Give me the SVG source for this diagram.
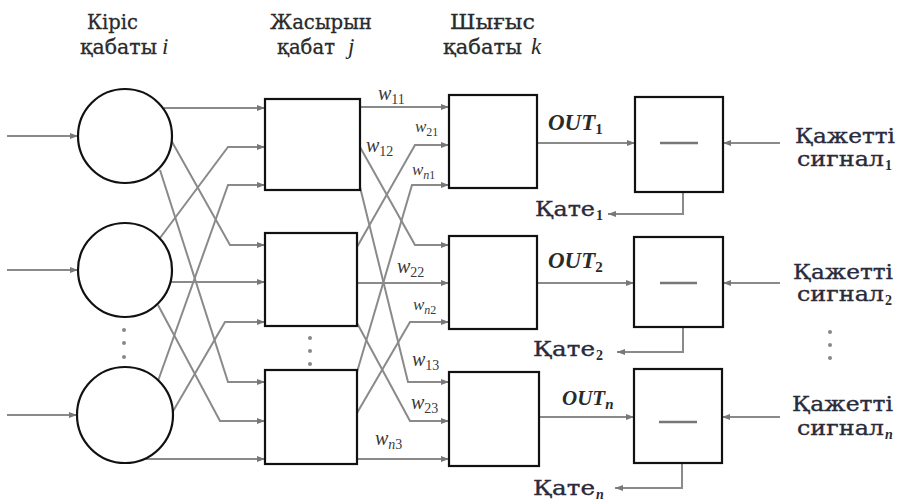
<svg xmlns="http://www.w3.org/2000/svg" width="900" height="503" viewBox="0 0 900 503">
  <style>
    .title { font-family: "DejaVu Serif", "Liberation Serif", serif; font-size: 21px; fill: #2a2a2a; stroke: #2a2a2a; stroke-width: 0.3; }
    .var { font-family: "Liberation Serif", serif; font-style: italic; font-size: 23px; fill: #2a2a2a; }
    .w { font-family: "Liberation Serif", serif; font-style: italic; font-size: 20px; fill: #3a3a3a; }
    .ws { font-style: normal; font-size: 14px; }
    .wsn { font-style: italic; font-size: 14px; }
    .out { font-family: "Liberation Serif", serif; font-style: italic; font-weight: bold; font-size: 23px; fill: #2a2a2a; }
    .outs { font-style: normal; font-size: 15px; }
    .outsn { font-style: italic; font-size: 15px; }
    .lbl { font-family: "DejaVu Serif", "Liberation Serif", serif; font-size: 20px; fill: #2a2a3a; stroke: #2a2a3a; stroke-width: 0.35; }
    .sub { font-family: "Liberation Serif", serif; font-weight: bold; font-size: 14px; fill: #2a2a3a; }
    .subn { font-family: "Liberation Serif", serif; font-weight: bold; font-style: italic; font-size: 14px; fill: #2a2a3a; }
    .node { fill: #fff; stroke: #111; stroke-width: 2.2; }
    .wire { fill: none; stroke: #8a8a8a; stroke-width: 2; marker-end: url(#ah); }
    .minus { stroke: #777; stroke-width: 2.5; }
    .dot { fill: #888; }
  </style>
  <defs>
    <marker id="ah" viewBox="0 0 8 6" refX="8" refY="3" markerWidth="8" markerHeight="6" markerUnits="userSpaceOnUse" orient="auto">
      <path d="M0,0 L8,3 L0,6 z" fill="#777"/>
    </marker>
  </defs>

  <!-- layer titles -->
  <g id="titles">
    <text class="title" x="87" y="29" textLength="51" lengthAdjust="spacingAndGlyphs">Кіріс</text>
    <text class="title" x="80" y="54" textLength="77" lengthAdjust="spacingAndGlyphs">қабаты</text>
    <text class="var" x="162" y="54">i</text>
    <text class="title" x="270" y="29" textLength="102" lengthAdjust="spacingAndGlyphs">Жасырын</text>
    <text class="title" x="277" y="54" textLength="58" lengthAdjust="spacingAndGlyphs">қабат</text>
    <text class="var" x="348" y="54">j</text>
    <text class="title" x="450" y="29" textLength="85" lengthAdjust="spacingAndGlyphs">Шығыс</text>
    <text class="title" x="443" y="54" textLength="79" lengthAdjust="spacingAndGlyphs">қабаты</text>
    <text class="var" x="531" y="54">k</text>
  </g>

  <!-- connectors -->
  <g id="connectors">
    <!-- inputs -->
    <path class="wire" d="M7,136 H78"/>
    <path class="wire" d="M7,270 H78"/>
    <path class="wire" d="M7,415 H77"/>
    <!-- input layer to hidden layer -->
    <path class="wire" d="M164,108 H265"/>
    <path class="wire" d="M171,140 L230,245 H265"/>
    <path class="wire" d="M160,170 L228,382 H265"/>
    <path class="wire" d="M160,238 L228,147 H265"/>
    <path class="wire" d="M171,282 H265"/>
    <path class="wire" d="M158,305 L220,421 H265"/>
    <path class="wire" d="M158,381 L228,185 H265"/>
    <path class="wire" d="M172,413 L225,322 H265"/>
    <path class="wire" d="M145,459 H265"/>
    <!-- hidden layer to output layer -->
    <path class="wire" d="M360,107 H449"/>
    <path class="wire" d="M360,147 L415,245 H449"/>
    <path class="wire" d="M360,187 L408,382 H449"/>
    <path class="wire" d="M357,247 L415,145 H449"/>
    <path class="wire" d="M357,283 H449"/>
    <path class="wire" d="M357,323 L410,421 H449"/>
    <path class="wire" d="M357,372 L412,185 H449"/>
    <path class="wire" d="M357,413 L410,322 H449"/>
    <path class="wire" d="M357,459 H449"/>
    <!-- outputs to comparators -->
    <path class="wire" d="M537,143 H635"/>
    <path class="wire" d="M537,283 H634"/>
    <path class="wire" d="M539,417 H634"/>
    <!-- desired signals -->
    <path class="wire" d="M780,143 H723"/>
    <path class="wire" d="M780,283 H723"/>
    <path class="wire" d="M780,417 H722"/>
    <!-- error feedback -->
    <path class="wire" d="M683,192 V214 H608"/>
    <path class="wire" d="M683,327 V352 H617"/>
    <path class="wire" d="M682,463 V488 H615"/>
  </g>

  <!-- input layer -->
  <g id="input-1"><circle class="node" cx="125" cy="136" r="47"/></g>
  <g id="input-2"><circle class="node" cx="125" cy="270" r="47"/></g>
  <g id="input-n"><circle class="node" cx="125" cy="415" r="48"/></g>
  <g id="input-dots">
    <circle class="dot" cx="124" cy="330" r="2"/>
    <circle class="dot" cx="124" cy="343" r="2"/>
    <circle class="dot" cx="124" cy="357" r="2"/>
  </g>

  <!-- hidden layer -->
  <g id="hidden-1"><rect class="node" x="265" y="99" width="95" height="91"/></g>
  <g id="hidden-2"><rect class="node" x="265" y="233" width="92" height="93"/></g>
  <g id="hidden-n"><rect class="node" x="265" y="370" width="92" height="94"/></g>
  <g id="hidden-dots">
    <circle class="dot" cx="310" cy="338" r="2"/>
    <circle class="dot" cx="310" cy="351" r="2"/>
    <circle class="dot" cx="310" cy="364" r="2"/>
  </g>

  <!-- output layer -->
  <g id="output-1"><rect class="node" x="449" y="95" width="88" height="93"/></g>
  <g id="output-2"><rect class="node" x="449" y="236" width="88" height="93"/></g>
  <g id="output-n"><rect class="node" x="449" y="372" width="90" height="94"/></g>

  <!-- comparators -->
  <g id="compare-1">
    <rect class="node" x="635" y="97" width="88" height="95"/>
    <line class="minus" x1="660" y1="143" x2="698" y2="143"/>
  </g>
  <g id="compare-2">
    <rect class="node" x="634" y="237" width="89" height="90"/>
    <line class="minus" x1="660" y1="283" x2="697" y2="283"/>
  </g>
  <g id="compare-n">
    <rect class="node" x="634" y="369" width="88" height="94"/>
    <line class="minus" x1="659" y1="422" x2="697" y2="422"/>
  </g>
  <g id="signal-dots">
    <circle class="dot" cx="830" cy="332" r="2"/>
    <circle class="dot" cx="830" cy="345" r="2"/>
    <circle class="dot" cx="830" cy="358" r="2"/>
  </g>

  <!-- weight labels -->
  <g id="weights">
    <text class="w" x="378" y="100">w<tspan class="ws" dy="4">11</tspan></text>
    <text class="w" x="366" y="152">w<tspan class="ws" dy="4">12</tspan></text>
    <text class="w" x="415" y="132" style="font-size:17px">w<tspan class="ws" dy="4" style="font-size:12px">21</tspan></text>
    <text class="w" x="412" y="175" style="font-size:17px">w<tspan class="wsn" dy="4" style="font-size:12px">n</tspan><tspan class="ws" style="font-size:12px">1</tspan></text>
    <text class="w" x="397" y="273">w<tspan class="ws" dy="4">22</tspan></text>
    <text class="w" x="413" y="310" style="font-size:17px">w<tspan class="wsn" dy="4" style="font-size:12px">n</tspan><tspan class="ws" style="font-size:12px">2</tspan></text>
    <text class="w" x="412" y="366">w<tspan class="ws" dy="4">13</tspan></text>
    <text class="w" x="411" y="409">w<tspan class="ws" dy="4">23</tspan></text>
    <text class="w" x="375" y="445">w<tspan class="wsn" dy="4">n</tspan><tspan class="ws">3</tspan></text>
  </g>

  <!-- output labels -->
  <g id="out-labels">
    <text class="out" x="548" y="130">OUT<tspan class="outs" dy="4">1</tspan></text>
    <text class="out" x="548" y="268">OUT<tspan class="outs" dy="4">2</tspan></text>
    <text class="out" x="562" y="405" style="font-size:21px">OUT<tspan class="outsn" dy="4">n</tspan></text>
  </g>

  <!-- desired signals -->
  <g id="desired-labels">
    <text class="lbl" x="795" y="143" textLength="100" lengthAdjust="spacingAndGlyphs">Қажетті</text>
    <text class="lbl" x="797" y="166" textLength="87" lengthAdjust="spacingAndGlyphs">сигнал</text>
    <text class="sub" x="885" y="170">1</text>
    <text class="lbl" x="793" y="279" textLength="100" lengthAdjust="spacingAndGlyphs">Қажетті</text>
    <text class="lbl" x="797" y="301" textLength="87" lengthAdjust="spacingAndGlyphs">сигнал</text>
    <text class="sub" x="885" y="305">2</text>
    <text class="lbl" x="792" y="411" textLength="101" lengthAdjust="spacingAndGlyphs">Қажетті</text>
    <text class="lbl" x="797" y="435" textLength="87" lengthAdjust="spacingAndGlyphs">сигнал</text>
    <text class="subn" x="885" y="439">n</text>
  </g>

  <!-- error labels -->
  <g id="error-labels">
    <text class="lbl" x="535" y="216" textLength="60" lengthAdjust="spacingAndGlyphs">Қате</text>
    <text class="sub" x="596" y="220">1</text>
    <text class="lbl" x="533" y="356" textLength="62" lengthAdjust="spacingAndGlyphs">Қате</text>
    <text class="sub" x="596" y="360">2</text>
    <text class="lbl" x="533" y="495" textLength="62" lengthAdjust="spacingAndGlyphs">Қате</text>
    <text class="subn" x="596" y="499">n</text>
  </g>
</svg>
